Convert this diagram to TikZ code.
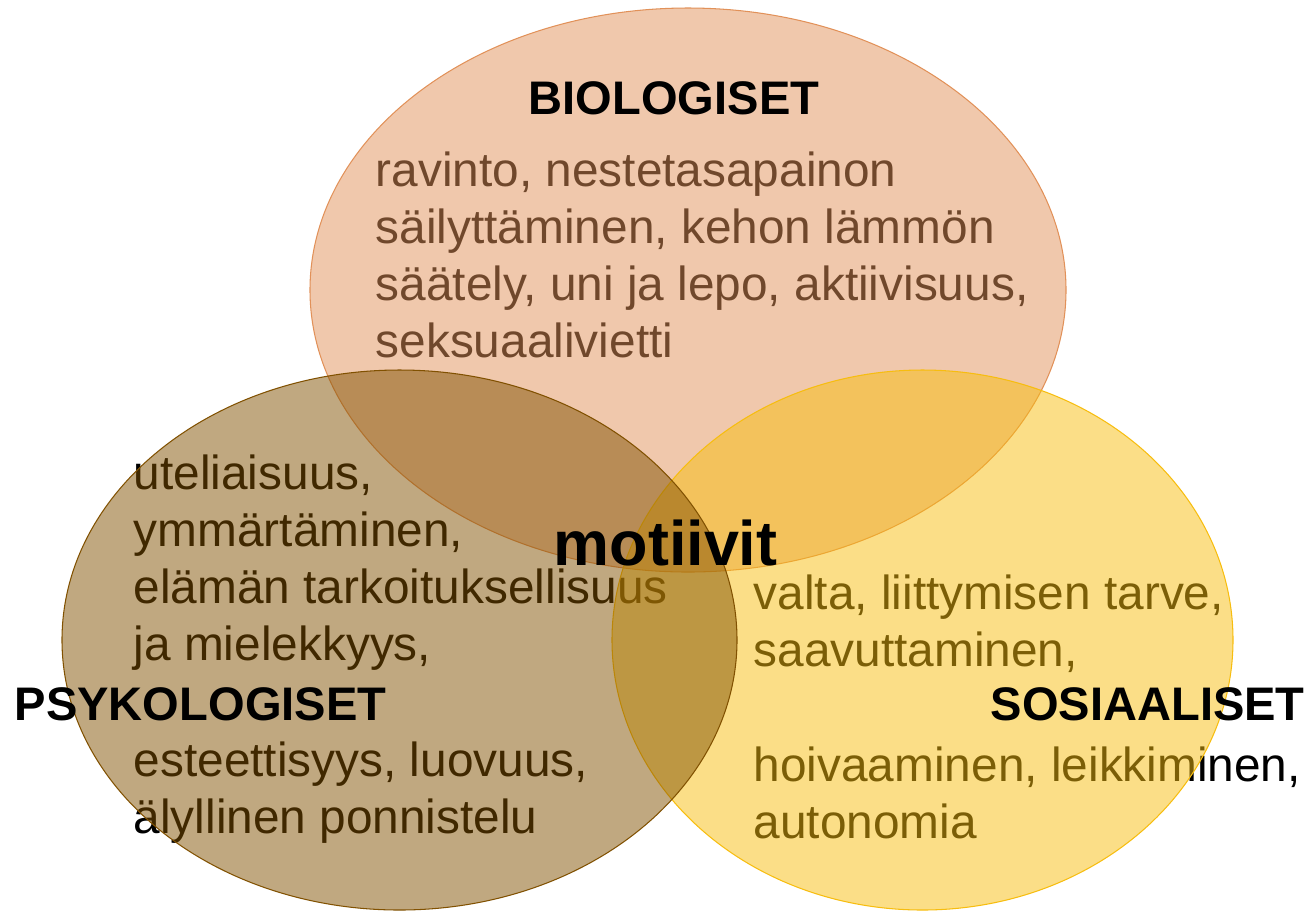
\documentclass[tikz,border=0pt]{standalone}
\usepackage{fontspec}
\setmainfont{Liberation Sans}
\definecolor{biocol}{RGB}{225,145,89}
\definecolor{psycol}{RGB}{129,81,1}
\definecolor{soscol}{RGB}{247,189,15}
\begin{document}
\begin{tikzpicture}[
  bodytext/.style={anchor=base west, align=left, inner sep=0pt, font=\fontsize{13.6}{16.2}\selectfont},
  heading/.style={inner sep=0pt, font=\fontsize{13.4}{16.2}\selectfont\bfseries},
  blob/.style={fill=#1, draw=#1, fill opacity=0.5, line width=0.3pt}
]
  \useasboundingbox (0,0) rectangle (13.13,-9.11);

  % Add texts (they lie under the ellipses, placed by their last line)
  \node[bodytext] (biotext) at (3.75,-3.57) {ravinto, nestetasapainon\\s\"ailytt\"aminen, kehon l\"amm\"on\\s\"a\"ately, uni ja lepo, aktiivisuus,\\seksuaalivietti};
  \node[bodytext] (psytexta) at (1.33,-6.60) {uteliaisuus,\\ymm\"art\"aminen,\\el\"am\"an tarkoituksellisuus\\ja mielekkyys,};
  \node[bodytext] (psytextb) at (1.33,-8.33) {esteettisyys, luovuus,\\\"alyllinen ponnistelu};
  \node[bodytext] (sostexta) at (7.53,-6.66) {valta, liittymisen tarve,\\saavuttaminen,};
  \node[bodytext] (sostextb) at (7.53,-8.38) {hoivaaminen, leikkiminen,\\autonomia};

  % Draw the ellipses
  \draw[blob=biocol] (6.88,-2.90) ellipse (3.78 and 2.82);
  \draw[blob=soscol] (9.225,-6.40) ellipse (3.105 and 2.70);
  \draw[blob=psycol] (3.995,-6.40) ellipse (3.375 and 2.70);

  % Add headings
  \node[heading, anchor=base] (bio) at (6.74,-1.14) {BIOLOGISET};
  \node[heading, anchor=base west] (psy) at (0.14,-7.20) {PSYKOLOGISET};
  \node[heading, anchor=base west] (sos) at (9.90,-7.20) {SOSIAALISET};
  \node[heading, anchor=base west, font=\fontsize{17.9}{21}\selectfont\bfseries] (motiivit) at (5.53,-5.65) {motiivit};

\end{tikzpicture}
\end{document}
